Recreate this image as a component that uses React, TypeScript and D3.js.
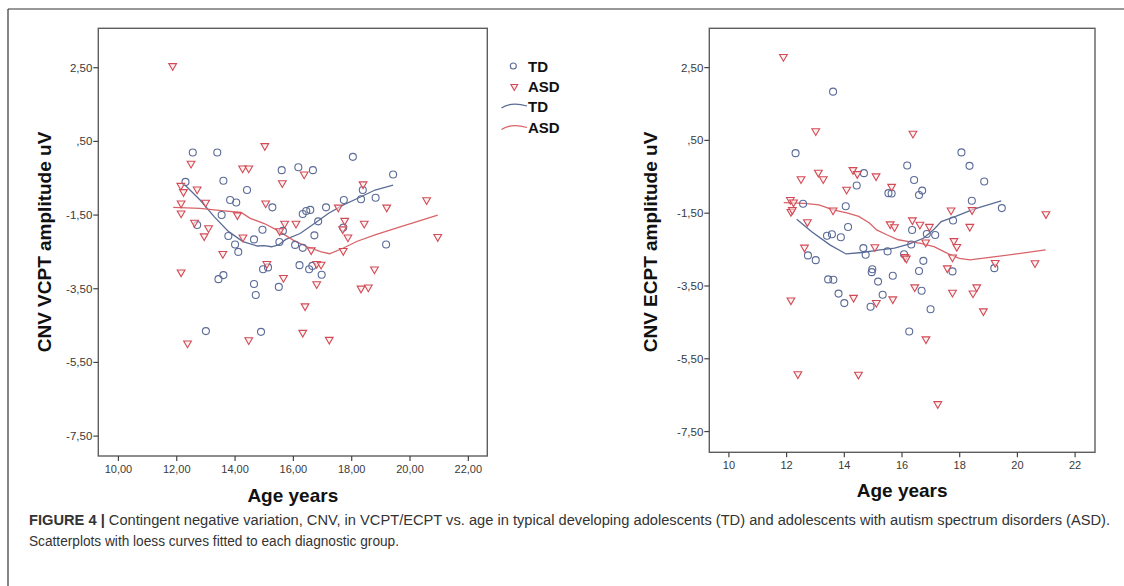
import React from "react";
import * as d3 from "d3";

// ---------- VCPT panel data ----------
const vcptTdAge = [12.55, 13.39, 12.3, 13.6, 14.41, 13.83, 14.04, 15.28, 15.6, 13.54, 12.7, 13.77, 14.0, 14.11, 14.65, 14.94, 14.96, 15.13, 13.43, 13.6, 14.65, 14.71, 15.5, 13.0, 14.89, 15.52, 18.04, 16.17, 16.67, 19.42, 18.38, 18.32, 18.82, 17.73, 17.12, 16.32, 16.44, 16.58, 16.85, 15.64, 16.72, 17.71, 16.06, 16.32, 19.18, 16.21, 16.54, 16.65, 16.97];
const vcptTdCnv = [0.2, 0.2, -0.6, -0.57, -0.82, -1.09, -1.16, -1.29, -0.28, -1.5, -1.77, -2.07, -2.3, -2.5, -2.16, -1.9, -2.97, -2.92, -3.24, -3.13, -3.37, -3.67, -3.45, -4.65, -4.67, -2.23, 0.08, -0.2, -0.28, -0.4, -0.82, -1.07, -1.03, -1.09, -1.29, -1.47, -1.39, -1.36, -1.67, -1.93, -2.05, -1.84, -2.31, -2.39, -2.3, -2.86, -2.97, -2.88, -3.12];
const vcptAsdAge = [11.86, 15.02, 12.49, 14.26, 14.47, 12.14, 12.23, 12.7, 12.15, 12.15, 12.99, 15.05, 14.08, 12.61, 13.09, 12.94, 13.58, 14.27, 12.15, 12.37, 14.47, 15.09, 15.53, 15.7, 15.62, 16.37, 18.39, 20.57, 19.2, 17.54, 16.09, 17.76, 18.43, 17.69, 17.87, 20.95, 16.61, 17.71, 16.8, 16.95, 15.66, 16.8, 18.78, 18.32, 18.57, 16.4, 16.32, 17.23];
const vcptAsdCnv = [2.55, 0.38, -0.1, -0.23, -0.23, -0.7, -0.87, -0.8, -1.18, -1.45, -1.16, -1.18, -1.5, -1.7, -1.85, -2.07, -2.55, -2.1, -3.05, -4.98, -4.89, -2.82, -1.93, -1.73, -0.63, -0.39, -0.66, -1.09, -1.29, -1.29, -1.73, -1.65, -1.73, -1.88, -2.1, -2.09, -2.45, -2.47, -2.82, -2.84, -3.2, -3.37, -2.97, -3.49, -3.46, -3.97, -4.69, -4.88];
const vcptTdLoessAge = [12.29, 12.8, 13.29, 13.78, 14.27, 14.76, 15.0, 15.25, 15.49, 15.74, 16.23, 16.72, 17.21, 17.7, 18.19, 18.8, 19.42];
const vcptTdLoessCnv = [-0.69, -1.09, -1.55, -1.95, -2.22, -2.34, -2.33, -2.36, -2.31, -2.16, -2.0, -1.73, -1.45, -1.23, -1.05, -0.82, -0.69];
const vcptAsdLoessAge = [11.88, 12.8, 13.53, 14.21, 14.52, 15.0, 15.49, 15.99, 16.47, 16.96, 17.24, 17.7, 18.19, 18.8, 19.66, 20.95];
const vcptAsdLoessCnv = [-1.29, -1.32, -1.38, -1.43, -1.59, -1.73, -1.93, -2.18, -2.36, -2.5, -2.55, -2.4, -2.21, -2.04, -1.82, -1.5];

// ---------- ECPT panel data ----------
const ecptTdAge = [13.61, 12.31, 12.57, 13.4, 13.57, 12.74, 13.01, 13.44, 13.62, 13.8, 18.06, 18.34, 18.85, 16.18, 16.42, 14.68, 14.43, 15.53, 15.64, 16.7, 16.59, 18.42, 19.46, 17.77, 14.05, 14.13, 13.88, 16.35, 16.86, 17.15, 16.32, 14.66, 14.74, 15.5, 16.07, 16.74, 14.97, 14.95, 16.59, 17.75, 19.2, 15.68, 15.17, 15.33, 14.91, 14.0, 16.68, 16.99, 16.25];
const ecptTdCnv = [1.84, 0.15, -1.24, -2.12, -2.08, -2.66, -2.79, -3.32, -3.33, -3.71, 0.17, -0.2, -0.63, -0.19, -0.59, -0.4, -0.74, -0.95, -0.96, -0.88, -1.0, -1.16, -1.36, -1.7, -1.31, -1.88, -2.16, -1.96, -2.07, -2.1, -2.36, -2.46, -2.64, -2.55, -2.63, -2.81, -3.04, -3.12, -3.09, -3.1, -3.01, -3.22, -3.38, -3.74, -4.07, -3.97, -3.63, -4.14, -4.75];
const ecptAsdAge = [11.89, 13.01, 12.5, 13.1, 13.27, 12.13, 12.24, 12.15, 12.2, 12.72, 13.61, 12.62, 12.15, 12.39, 16.38, 14.3, 14.45, 15.1, 15.64, 14.08, 17.7, 18.43, 20.99, 15.59, 15.74, 16.36, 16.62, 16.95, 18.35, 15.06, 16.82, 17.8, 17.9, 16.1, 16.15, 17.75, 19.23, 20.61, 17.57, 16.44, 18.59, 18.46, 17.75, 14.32, 15.11, 15.68, 18.82, 16.83, 14.49, 17.24];
const ecptAsdCnv = [2.8, 0.76, -0.56, -0.38, -0.56, -1.13, -1.2, -1.46, -1.41, -1.74, -1.42, -2.44, -3.89, -5.92, 0.69, -0.31, -0.42, -0.48, -0.77, -0.85, -1.42, -1.41, -1.52, -1.8, -1.88, -1.69, -1.81, -1.87, -1.87, -2.43, -2.3, -2.26, -2.42, -2.7, -2.74, -2.71, -2.86, -2.87, -3.01, -3.53, -3.53, -3.7, -3.68, -3.82, -3.96, -3.86, -4.19, -4.96, -5.93, -6.74];
const ecptTdLoessAge = [12.35, 12.87, 13.5, 14.06, 14.62, 15.24, 15.74, 16.24, 16.74, 17.11, 17.36, 17.86, 18.49, 19.44];
const ecptTdLoessCnv = [-1.67, -2.01, -2.37, -2.62, -2.58, -2.51, -2.46, -2.35, -2.19, -1.94, -1.73, -1.59, -1.39, -1.16];
const ecptAsdLoessAge = [11.9, 12.62, 13.12, 13.62, 14.12, 14.5, 14.87, 15.12, 15.49, 15.87, 16.24, 16.61, 17.11, 17.61, 17.99, 18.36, 19.11, 19.98, 20.98];
const ecptAsdLoessCnv = [-1.21, -1.23, -1.27, -1.41, -1.5, -1.59, -1.77, -1.96, -2.1, -2.23, -2.28, -2.32, -2.42, -2.62, -2.74, -2.78, -2.71, -2.62, -2.51];

// ---------- axis ticks ----------
const yTicks = [2.5, 0.5, -1.5, -3.5, -5.5, -7.5];
const yTickLabels = ["2,50", ",50", "-1,50", "-3,50", "-5,50", "-7,50"];
const xTicks = [10, 12, 14, 16, 18, 20, 22];
const vcptXTickLabels = ["10,00", "12,00", "14,00", "16,00", "18,00", "20,00", "22,00"];
const ecptXTickLabels = ["10", "12", "14", "16", "18", "20", "22"];
const legendLabels = ["TD", "ASD", "TD", "ASD"];

const TD_COLOR = "#5b6b98";
const ASD_COLOR = "#d24a55";
const TD_LINE = "#5a6c96";
const ASD_LINE = "#d8646a";
const FONT = "'Liberation Sans', Arial, Helvetica, sans-serif";

const zip = (a: number[], b: number[]) => a.map((v, i) => [v, b[i]] as [number, number]);

type PanelProps = {
  left: number; right: number; top: number; bottom: number;
  xDom: [number, number]; yDom: [number, number];
  tdAge: number[]; tdCnv: number[]; asdAge: number[]; asdCnv: number[];
  tdLA: number[]; tdLC: number[]; asdLA: number[]; asdLC: number[];
  xLabels: string[]; yTitle: string; yTitleX: number; xLabelY: number; xTitleY: number;
};

function Panel(p: PanelProps) {
  const x = d3.scaleLinear().domain(p.xDom).range([p.left, p.right]);
  const y = d3.scaleLinear().domain(p.yDom).range([p.top, p.bottom]);
  const line = d3.line<[number, number]>().x((d) => x(d[0])).y((d) => y(d[1]));
  const tri = d3.symbol().type(d3.symbolTriangle).size(26)();
  const midY = 242;
  const midX = (p.left + p.right) / 2;
  return (
    <g>
      <rect x={p.left} y={p.top} width={p.right - p.left} height={p.bottom - p.top} fill="#fff" stroke="#5e5e5e" strokeWidth={1.4} />
      {yTicks.map((t, i) => (
        <g key={"y" + i}>
          <line x1={p.left - 5} x2={p.left} y1={y(t)} y2={y(t)} stroke="#444" strokeWidth={1.2} />
          <text x={p.left - 6} y={y(t) + 4} textAnchor="end" fontSize={11.5} fill="#3a3a3a" fontFamily={FONT}>{yTickLabels[i]}</text>
        </g>
      ))}
      {xTicks.map((t, i) => (
        <g key={"x" + i}>
          <line x1={x(t)} x2={x(t)} y1={p.bottom} y2={p.bottom + 5} stroke="#444" strokeWidth={1.2} />
          <text x={x(t)} y={p.xLabelY} textAnchor="middle" fontSize={11} fill="#3a3a3a" fontFamily={FONT}>{p.xLabels[i]}</text>
        </g>
      ))}
      <path d={line(zip(p.tdLA, p.tdLC)) || ""} fill="none" stroke={TD_LINE} strokeWidth={1.3} />
      <path d={line(zip(p.asdLA, p.asdLC)) || ""} fill="none" stroke={ASD_LINE} strokeWidth={1.3} />
      {p.tdAge.map((a, i) => (
        <circle key={"c" + i} cx={x(a)} cy={y(p.tdCnv[i])} r={3.5} fill="none" stroke={TD_COLOR} strokeWidth={1.1} />
      ))}
      {p.asdAge.map((a, i) => (
        <path key={"t" + i} d={tri || ""} transform={`translate(${x(a)},${y(p.asdCnv[i])}) rotate(180)`} fill="#fbe9ea" fillOpacity={0.6} stroke={ASD_COLOR} strokeWidth={1.1} />
      ))}
      <text transform={`translate(${p.yTitleX},${midY}) rotate(-90)`} textAnchor="middle" fontSize={19} fontWeight="bold" fill="#111" fontFamily={FONT}>{p.yTitle}</text>
      <text x={midX} y={p.xTitleY} textAnchor="middle" fontSize={19} fontWeight="bold" fill="#111" fontFamily={FONT}>Age years</text>
    </g>
  );
}

export default function App() {
  const tri = d3.symbol().type(d3.symbolTriangle).size(20)();
  const legY = [66, 86.5, 106, 127.5];
  return (
    <svg width={1124} height={586} style={{ position: "absolute", left: 0, top: 0, background: "#fff" }}>
      <rect x={0} y={0} width={1124} height={586} fill="#fff" />
      <line x1={8} y1={9} x2={1124} y2={9} stroke="#333" strokeWidth={1.2} />
      <line x1={8} y1={9} x2={8} y2={586} stroke="#333" strokeWidth={1.2} />
      <Panel left={98.3} right={487.3} top={28.3} bottom={456} xDom={[9.31, 22.65]} yDom={[3.57, -8.04]}
        tdAge={vcptTdAge} tdCnv={vcptTdCnv} asdAge={vcptAsdAge} asdCnv={vcptAsdCnv}
        tdLA={vcptTdLoessAge} tdLC={vcptTdLoessCnv} asdLA={vcptAsdLoessAge} asdLC={vcptAsdLoessCnv}
        xLabels={vcptXTickLabels} yTitle="CNV VCPT amplitude uV" yTitleX={51} xLabelY={473} xTitleY={502} />
      <Panel left={709.3} right={1095} top={28.3} bottom={452.3} xDom={[9.32, 22.69]} yDom={[3.58, -8.07]}
        tdAge={ecptTdAge} tdCnv={ecptTdCnv} asdAge={ecptAsdAge} asdCnv={ecptAsdCnv}
        tdLA={ecptTdLoessAge} tdLC={ecptTdLoessCnv} asdLA={ecptAsdLoessAge} asdLC={ecptAsdLoessCnv}
        xLabels={ecptXTickLabels} yTitle="CNV ECPT amplitude uV" yTitleX={657} xLabelY={469} xTitleY={497} />
      {/* legend */}
      <circle cx={513.3} cy={legY[0]} r={3} fill="none" stroke={TD_COLOR} strokeWidth={1.1} />
      <path d={tri || ""} transform={`translate(514.3,${legY[1]}) rotate(180)`} fill="#fbe9ea" stroke={ASD_COLOR} strokeWidth={1.1} />
      <path d={`M501.5,${legY[2] + 2} C509,${legY[2] - 3} 517,${legY[2] - 3} 527,${legY[2]}`} fill="none" stroke={TD_LINE} strokeWidth={1.3} />
      <path d={`M501.5,${legY[3] + 2} C509,${legY[3] - 3} 517,${legY[3] - 3} 527,${legY[3]}`} fill="none" stroke={ASD_LINE} strokeWidth={1.3} />
      {legendLabels.map((l, i) => (
        <text key={"l" + i} x={528} y={legY[i] + 5.5} fontSize={15} fontWeight="bold" fill="#111" fontFamily={FONT}>{l}</text>
      ))}
      {/* caption */}
      <text x={29} y={525} fontSize={14} fill="#333" fontFamily={FONT} textLength={1081} lengthAdjust="spacingAndGlyphs">
        <tspan fontWeight="bold">FIGURE 4 |</tspan>
        <tspan> Contingent negative variation, CNV, in VCPT/ECPT vs. age in typical developing adolescents (TD) and adolescents with autism spectrum disorders (ASD).</tspan>
      </text>
      <text x={29} y={546} fontSize={14} fill="#333" fontFamily={FONT} textLength={370} lengthAdjust="spacingAndGlyphs">Scatterplots with loess curves fitted to each diagnostic group.</text>
    </svg>
  );
}
